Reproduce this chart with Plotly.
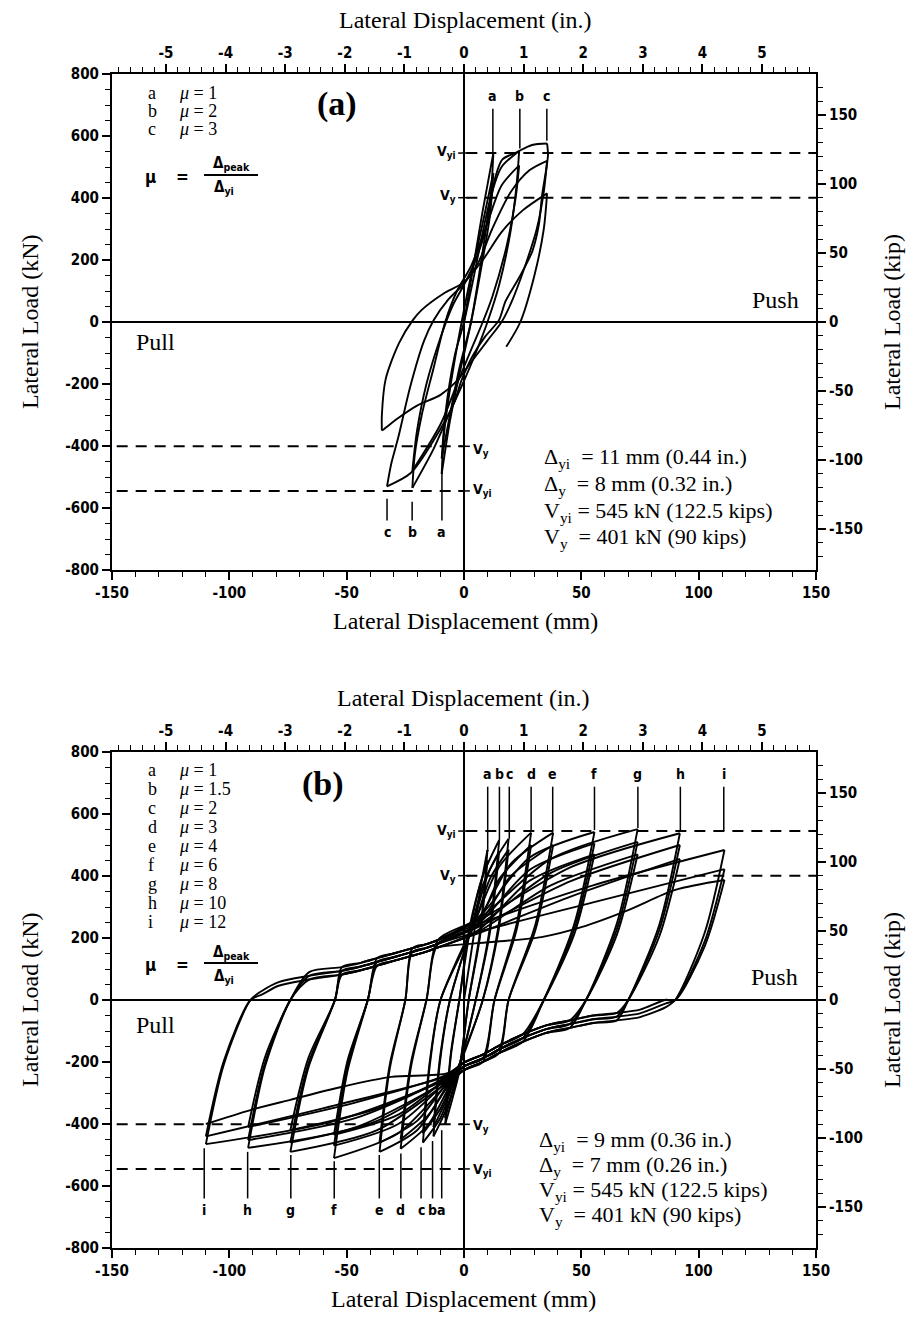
import plotly.graph_objects as go

# ---------------- constants / units ----------------
MM_PER_IN = 25.4
KN_PER_KIP = 4.448
X_RANGE_MM = [-150, 150]
Y_RANGE_KN = [-800, 800]
VYI_KN = 545
VY_KN = 401
MM_TICKS = [-150, -100, -50, 0, 50, 100, 150]
IN_TICKS = [-5, -4, -3, -2, -1, 0, 1, 2, 3, 4, 5]
KN_TICKS = [-800, -600, -400, -200, 0, 200, 400, 600, 800]
KIP_TICKS = [-150, -100, -50, 0, 50, 100, 150]

# ---------------- panel (a): half-cycle key vertices (mm, kN) ----------------
A_HALF_X = [
    [0, 4, 8, 12.5],
    [12.5, 11.5, 8, 3, -2, -6, -9.5],
    [-9.5, -8.5, -5, -1, 3, 8, 12.5],
    [12.5, 11, 7, 3, -2, -6, -9.5],
    [-9.5, -8, -4, 0, 4, 8, 12, 16, 23.5],
    [23.5, 22.5, 20, 15, 10, 5, 0, -6, -13, -22],
    [-22, -21, -18, -13, -8, -3, 3, 10, 16, 23.5],
    [23.5, 22, 18, 12, 8, 3, -3, -10, -22],
    [-22, -20, -16, -10, -5, 0, 5, 9.2, 11.3, 13.5, 16.3, 22, 29, 35.4],
    [35.4, 35.8, 35.2, 33.3, 31.9, 29.1, 23.4, 17.7, 14.9, 9, 3.5, -1, -4.3, -12.8, -22.7, -32.8],
    [-32.8, -31, -28, -23, -17, -13, -7, 0, 6, 12, 20, 28, 35.4],
    [35.4, 34, 31, 26, 20, 16, 10, 3, -3, -10, -20, -28, -34, -35],
    [-35, -35, -33.4, -27.7, -21.8, -18, -8, -0.3, 8, 16, 25, 35.4],
    [35.4, 34, 30, 24, 18],
]
A_HALF_Y = [
    [0, 180, 360, 545],
    [545, 420, 230, 0, -170, -320, -490],
    [-490, -360, -170, 0, 150, 320, 480],
    [480, 340, 160, 0, -150, -300, -440],
    [-440, -300, -110, 0, 140, 290, 420, 500, 552],
    [552, 450, 300, 120, 0, -100, -190, -290, -410, -535],
    [-535, -430, -300, -150, 0, 100, 180, 320, 440, 505],
    [505, 400, 240, 80, 0, -90, -200, -330, -480],
    [-480, -350, -200, -50, 50, 120, 200, 298, 385, 471, 524, 546, 571, 576],
    [576, 540, 500, 410, 314, 228, 142, 67, 6, -47, -112, -187, -262, -380, -487, -530],
    [-530, -457, -372, -211, -60, 5, 70, 124, 190, 300, 420, 490, 520],
    [520, 420, 300, 180, 60, 0, -60, -130, -190, -235, -270, -310, -345, -350],
    [-350, -300, -185, -68, 6, 39, 95, 127, 200, 290, 360, 415],
    [415, 300, 150, 0, -80],
]
A_MU = ["1", "2", "3"]
A_LETTERS = ["a", "b", "c"]
A_TOP_MARK_X = [12.3, 23.8, 35.3]
A_TOP_MARK_Y0 = [545, 560, 585]
A_BOT_MARK_X = [-9.4, -22.1, -32.8]
A_BOT_MARK_Y0 = [-487, -580, -570]
A_INFO = ["Δ<sub>yi</sub>  = 11 mm (0.44 in.)", "Δ<sub>y</sub>  = 8 mm (0.32 in.)",
          "V<sub>yi</sub> = 545 kN (122.5 kips)", "V<sub>y</sub>  = 401 kN (90 kips)"]

# ---------------- panel (b): cycle readings ----------------
B_LETTERS = ["a", "b", "c", "d", "e", "f", "g", "h", "i"]
B_MU = ["1", "1.5", "2", "3", "4", "6", "8", "10", "12"]
B_DP = [10, 15, 19, 28.6, 38, 55.6, 74, 92, 111]            # + peak displacement (mm)
B_DN = [-8, -13, -17.5, -27, -36, -55.4, -74, -92, -110]     # - peak displacement (mm)
B_P = [[484, 450], [516, 480], [520, 485], [540, 500], [540, 500],
       [542, 505, 470], [551, 510, 470], [538, 500, 455], [484, 422, 387]]
B_N = [[-400, -380], [-440, -410], [-460, -430], [-480, -450], [-490, -460],
       [-510, -470, -435], [-490, -460, -420], [-477, -452, -410], [-465, -440, -400]]
B_XC_DOWN = [2, 5, 8, 13, 19, 34, 52, 70, 90]               # zero crossing after + peak
B_XC_UP = [-2, -6, -10, -16, -25, -41, -55, -74, -91]       # zero crossing after - peak
B_POS_FAN = [
    [[(2, 230), (6, 380)], [(2, 220), (6, 350)]],
    [[(3, 245), (8, 400)], [(3, 230), (8, 370)]],
    [[(4, 250), (11, 420)], [(4, 235), (11, 390)]],
    [[(5, 260), (15, 430)], [(5, 240), (15, 390)]],
    [[(6, 265), (20, 440)], [(6, 245), (20, 400)]],
    [[(6, 265), (28, 460)], [(6, 245), (28, 420)], [(6, 225), (28, 385)]],
    [[(6, 260), (37, 455)], [(6, 240), (37, 410)], [(6, 220), (37, 370)]],
    [[(6, 255), (46, 430)], [(6, 235), (46, 385)], [(6, 215), (46, 335)]],
    [[(6, 245), (55, 370)], [(6, 220), (55, 315)],
     [(13, 188), (33, 203), (50, 235), (70, 290), (90, 355)]],
]
B_NEG_FAN = [
    [[(-2, -230), (-5, -320)], [(-2, -220), (-5, -300)]],
    [[(-3, -245), (-8, -360)], [(-3, -235), (-8, -330)]],
    [[(-4, -255), (-10, -380)], [(-4, -245), (-10, -350)]],
    [[(-5, -265), (-15, -400)], [(-5, -250), (-15, -370)]],
    [[(-6, -270), (-20, -420)], [(-6, -255), (-20, -390)]],
    [[(-7, -270), (-28, -430)], [(-7, -260), (-28, -400)], [(-7, -250), (-28, -370)]],
    [[(-7, -265), (-37, -420)], [(-7, -255), (-37, -390)], [(-7, -245), (-37, -350)]],
    [[(-7, -260), (-46, -410)], [(-7, -250), (-46, -380)], [(-7, -240), (-46, -330)]],
    [[(-7, -255), (-55, -390)], [(-7, -245), (-55, -340)],
     [(-7, -236), (-31, -248), (-52, -280), (-74, -322), (-91, -355)]],
]
B_VIRGIN = [(0, 0), (4, 200), (7, 360)]
UB_X = [-86, -79, -66, -52, -44, -37, -30, -22, -16, -11]   # upper pinched band
UB_Y = [42, 70, 90, 106, 120, 135, 150, 167, 180, 194]
LB_X = [86, 75, 65, 55, 45, 35, 25, 15, 8, 0]               # lower pinched band
LB_Y = [-23, -55, -66, -74, -90, -106, -135, -171, -200, -226]
B_BAND_OFF = [0, 12, 24]
B_TOP_MARK_X = [10.1, 15.1, 19.3, 28.6, 37.8, 55.6, 74.1, 92.2, 110.7]
B_TOP_MARK_Y0 = [480, 516, 520, 545, 545, 548, 555, 548, 545]
B_BOT_MARK_X = [-9.5, -13.4, -18.3, -26.9, -36.1, -55.3, -73.8, -92.2, -110.7]
B_BOT_MARK_Y0 = [-420, -455, -475, -495, -500, -520, -500, -490, -478]
B_INFO = ["Δ<sub>yi</sub>  = 9 mm (0.36 in.)", "Δ<sub>y</sub>  = 7 mm (0.26 in.)",
          "V<sub>yi</sub> = 545 kN (122.5 kips)", "V<sub>y</sub>  = 401 kN (90 kips)"]


def join_segments(xs_list, ys_list):
    X, Y = [], []
    for xs, ys in zip(xs_list, ys_list):
        X += list(xs) + [None]
        Y += list(ys) + [None]
    return X, Y


def build_b():
    segs_x, segs_y = [], []
    vx = [p[0] for p in B_VIRGIN] + [B_DP[0]]
    vy = [p[1] for p in B_VIRGIN] + [B_P[0][0]]
    segs_x.append(vx)
    segs_y.append(vy)
    prev = None
    for L in range(len(B_DP)):
        for k in range(len(B_P[L])):
            if prev is not None:
                Lp, kp = prev
                xn, fn = B_DN[Lp], B_N[Lp][kp]
                xc = B_XC_UP[Lp]
                fan = B_POS_FAN[L][k]
                xs = [xn, xn + 0.4 * (xc - xn), xc]
                ys = [fn, 0.45 * fn, 0]
                for bx, by in zip(UB_X, UB_Y):
                    if bx > xc + 2 and bx < fan[0][0] - 4:
                        xs.append(bx)
                        ys.append(by - B_BAND_OFF[k])
                for fx, fy in fan:
                    xs.append(fx)
                    ys.append(fy)
                xs.append(B_DP[L])
                ys.append(B_P[L][k])
                segs_x.append(xs)
                segs_y.append(ys)
            xp, fp = B_DP[L], B_P[L][k]
            xc = B_XC_DOWN[L]
            fan = B_NEG_FAN[L][k]
            xs = [xp, xp + 0.4 * (xc - xp), xc]
            ys = [fp, 0.45 * fp, 0]
            for bx, by in zip(LB_X, LB_Y):
                if bx < xc - 2 and bx > fan[0][0] + 4:
                    xs.append(bx)
                    ys.append(by + B_BAND_OFF[k])
            for fx, fy in fan:
                xs.append(fx)
                ys.append(fy)
            xs.append(B_DN[L])
            ys.append(B_N[L][k])
            segs_x.append(xs)
            segs_y.append(ys)
            prev = (L, k)
    return join_segments(segs_x, segs_y)


SERIF = "Liberation Serif, Times New Roman, serif"
SANS = "DejaVu Sans Condensed, DejaVu Sans, sans-serif"

fig = go.Figure()
ax_, ay_ = join_segments(A_HALF_X, A_HALF_Y)
bx_, by_ = build_b()
line_style = dict(color="black", width=1.9, shape="spline", smoothing=0.8)
fig.add_trace(go.Scatter(x=ax_, y=ay_, mode="lines", line=line_style, xaxis="x", yaxis="y",
                         hoverinfo="skip", connectgaps=False))
fig.add_trace(go.Scatter(x=bx_, y=by_, mode="lines", line=line_style, xaxis="x3", yaxis="y3",
                         hoverinfo="skip", connectgaps=False))
fig.add_trace(go.Scatter(x=[0], y=[0], mode="markers", marker=dict(opacity=0), xaxis="x2", yaxis="y2",
                         hoverinfo="skip"))
fig.add_trace(go.Scatter(x=[0], y=[0], mode="markers", marker=dict(opacity=0), xaxis="x4", yaxis="y4",
                         hoverinfo="skip"))

# the page body has an 8 px margin: the figure is sized so that the plot areas
# land at page pixels x 112..816 and y 74..570 / 752..1248
BODY = 8
W, H = 918 - BODY, 1319 - BODY
ML, MT = 112 - BODY, 74 - BODY
PW, PH = 704, 1174
MR, MB = W - ML - PW, H - MT - PH
TOP_DOM = [1 - 496 / PH, 1.0]
BOT_DOM = [0.0, 496 / PH]

tickfont = dict(family=SANS, size=15, color="black", weight="bold")


def common(vals, minor_dt):
    return dict(tickmode="array", tickvals=vals, ticktext=[str(v) for v in vals],
                ticks="outside", ticklen=8, tickwidth=1.5, tickcolor="black",
                minor=dict(dtick=minor_dt, tick0=0, ticks="outside", ticklen=5, tickwidth=1.2,
                           tickcolor="black"),
                showline=True, linecolor="black", linewidth=2, showgrid=False,
                tickfont=tickfont, fixedrange=True)


def xaxis_mm(anchor):
    d = common(MM_TICKS, 10)
    d.update(range=X_RANGE_MM, zeroline=True, zerolinecolor="black", zerolinewidth=1.6,
             anchor=anchor, domain=[0, 1])
    return d


def xaxis_in(overlay, anchor):
    d = common(IN_TICKS, 0.2)
    d.update(range=[X_RANGE_MM[0] / MM_PER_IN, X_RANGE_MM[1] / MM_PER_IN], zeroline=False,
             overlaying=overlay, anchor=anchor, side="top")
    return d


def yaxis_kn(anchor, dom):
    d = common(KN_TICKS, 50)
    d.update(range=Y_RANGE_KN, zeroline=True, zerolinecolor="black", zerolinewidth=1.6,
             anchor=anchor, domain=dom)
    return d


def yaxis_kip(overlay, anchor):
    d = common(KIP_TICKS, 10)
    d.update(range=[Y_RANGE_KN[0] / KN_PER_KIP, Y_RANGE_KN[1] / KN_PER_KIP], zeroline=False,
             overlaying=overlay, anchor=anchor, side="right")
    return d


fig.update_layout(
    width=W, height=H, margin=dict(l=ML, r=MR, t=MT, b=MB, pad=0),
    paper_bgcolor="white", plot_bgcolor="white", showlegend=False,
    xaxis=xaxis_mm("y"), xaxis2=xaxis_in("x", "y"),
    yaxis=yaxis_kn("x", TOP_DOM), yaxis2=yaxis_kip("y", "x"),
    xaxis3=xaxis_mm("y3"), xaxis4=xaxis_in("x3", "y3"),
    yaxis3=yaxis_kn("x3", BOT_DOM), yaxis4=yaxis_kip("y3", "x3"),
)


def P(xpx, ypx):
    # page pixel -> paper coordinates
    return (xpx - 112) / PW, 1 - (ypx - 74) / PH


annots = []


def note(xpx, ypx, text, size, family=SERIF, xanchor="center", yanchor="middle", angle=0,
         bold=False):
    px, py = P(xpx, ypx)
    if bold:
        text = "<b>" + text + "</b>"
    annots.append(dict(x=px, y=py, xref="paper", yref="paper", text=text, showarrow=False,
                       font=dict(family=family, size=size, color="black"), xanchor=xanchor,
                       yanchor=yanchor, textangle=angle))


PANELS = [
    dict(top=74, bot=570, zero_y=322, x0=465, legend_rows=[93, 111, 129], letters=A_LETTERS, mu=A_MU,
         tag="(a)", tag_xy=(337, 104), frac_y=175, info=A_INFO, info_x=542, info_y=[458, 485, 512, 538],
         push=(775, 300), pull=(155, 342), vyi_up=152, vy_up=196, vy_lo=450, vyi_lo=490),
    dict(top=752, bot=1248, zero_y=1000, x0=463,
         legend_rows=[770, 789, 808, 827, 846, 865, 884, 903, 922], letters=B_LETTERS, mu=B_MU,
         tag="(b)", tag_xy=(323, 784), frac_y=963, info=B_INFO, info_x=537,
         info_y=[1141, 1166, 1191, 1216], push=(774, 977), pull=(155, 1025),
         vyi_up=831, vy_up=876, vy_lo=1126, vyi_lo=1170),
]

for pnl in PANELS:
    x0 = pnl["x0"]
    note(x0, pnl["top"] - 54, "Lateral Displacement (in.)", 24)
    note(x0, pnl["bot"] + 51, "Lateral Displacement (mm)", 24)
    note(30, pnl["zero_y"], "Lateral Load (kN)", 24, angle=-90)
    note(892, pnl["zero_y"], "Lateral Load (kip)", 24, angle=-90)
    for row, let, mu in zip(pnl["legend_rows"], pnl["letters"], pnl["mu"]):
        note(146, row, let, 18, xanchor="left")
        note(177, row, "<i>μ</i> = " + mu, 18, xanchor="left")
    note(pnl["tag_xy"][0], pnl["tag_xy"][1], pnl["tag"], 34, bold=True)
    fy = pnl["frac_y"]
    note(150, fy + 2, "μ", 17, family=SANS, bold=True)
    note(182, fy + 2, "=", 17, family=SANS, bold=True)
    note(231, fy - 11, "Δ<sub>peak</sub>", 15, family=SANS, bold=True)
    note(224, fy + 13, "Δ<sub>yi</sub>", 15, family=SANS, bold=True)
    for t, yy in zip(pnl["info"], pnl["info_y"]):
        note(pnl["info_x"], yy, t, 22, xanchor="left")
    note(pnl["push"][0], pnl["push"][1], "Push", 24)
    note(pnl["pull"][0], pnl["pull"][1], "Pull", 24)
    note(458, pnl["vyi_up"], "V<sub>yi</sub>", 14, family=SANS, xanchor="right", bold=True)
    note(458, pnl["vy_up"], "V<sub>y</sub>", 14, family=SANS, xanchor="right", bold=True)
    note(471, pnl["vy_lo"], "V<sub>y</sub>", 14, family=SANS, xanchor="left", bold=True)
    note(471, pnl["vyi_lo"], "V<sub>yi</sub>", 14, family=SANS, xanchor="left", bold=True)

shapes = []
dash_line = dict(color="black", width=2, dash="11px,8px")
solid = dict(color="black", width=1.5)

for xr, yr, tmx, tmy0, bmx, bmy0, lets in [
    ("x", "y", A_TOP_MARK_X, A_TOP_MARK_Y0, A_BOT_MARK_X, A_BOT_MARK_Y0, A_LETTERS),
    ("x3", "y3", B_TOP_MARK_X, B_TOP_MARK_Y0, B_BOT_MARK_X, B_BOT_MARK_Y0, B_LETTERS),
]:
    for lvl in (VYI_KN, VY_KN):
        shapes.append(dict(type="line", xref=xr, yref=yr, x0=1, x1=X_RANGE_MM[1], y0=lvl, y1=lvl,
                           line=dash_line))
        shapes.append(dict(type="line", xref=xr, yref=yr, x0=X_RANGE_MM[0] + 2, x1=0, y0=-lvl, y1=-lvl,
                           line=dash_line))
        for s in (1, -1):
            shapes.append(dict(type="line", xref=xr, yref=yr, x0=-2.5, x1=2.5, y0=s * lvl, y1=s * lvl,
                               line=solid))
    for mx, my0, let in zip(tmx, tmy0, lets):
        shapes.append(dict(type="line", xref=xr, yref=yr, x0=mx, x1=mx, y0=my0, y1=688, line=solid))
        annots.append(dict(x=mx, y=730, xref=xr, yref=yr, text="<b>" + let + "</b>", showarrow=False,
                           font=dict(family=SANS, size=14, color="black")))
    for mx, my0, let in zip(bmx, bmy0, lets):
        shapes.append(dict(type="line", xref=xr, yref=yr, x0=mx, x1=mx, y0=my0, y1=-640, line=solid))
        annots.append(dict(x=mx, y=-677, xref=xr, yref=yr, text="<b>" + let + "</b>", showarrow=False,
                           font=dict(family=SANS, size=14, color="black")))

for pnl in PANELS:
    x0p, y0p = P(204, pnl["frac_y"])
    x1p, _ = P(258, pnl["frac_y"])
    shapes.append(dict(type="line", xref="paper", yref="paper", x0=x0p, x1=x1p, y0=y0p, y1=y0p,
                       line=dict(color="black", width=2)))

fig.update_layout(annotations=annots, shapes=shapes)
fig.write_html("out.html")
